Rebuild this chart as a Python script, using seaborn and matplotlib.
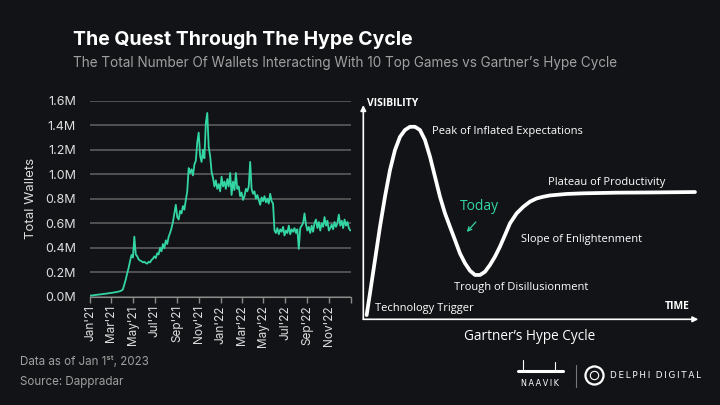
import matplotlib
matplotlib.use("Agg")
import matplotlib.pyplot as plt
import seaborn as sns
import pandas as pd

BG = "#121316"
GREEN = "#33d6a2"
GRID = "#626262"
LIGHT = "#dedede"
GREY = "#a0a0a0"

# total wallets (thousands), one reading every 4 days from Jan 1st 2021
wallets_k = [
    8, 10, 11, 13, 14, 16, 17, 19, 20, 22, 23, 25, 26, 28, 30, 31, 33, 35, 37, 39,
    42, 45, 50, 60, 100, 140, 190, 235, 290, 340, 320, 490, 345, 330, 305, 295, 290, 280, 285, 275,
    270, 285, 280, 300, 310, 330, 315, 355, 345, 400, 370, 430, 395, 460, 430, 490, 520, 560, 610, 680,
    750, 650, 630, 700, 680, 740, 710, 790, 860, 1050, 1010, 1040, 990, 1080, 1110, 1260, 1340, 1150, 1100, 1200,
    1130, 1420, 1500, 1220, 1150, 1020, 970, 900, 950, 880, 920, 860, 980, 900, 940, 880, 960, 900, 1010, 830,
    940, 870, 1010, 880, 900, 820, 850, 790, 820, 880, 860, 900, 1100, 880, 840, 860, 800, 830, 790, 750,
    810, 780, 820, 770, 800, 760, 840, 780, 760, 540, 520, 560, 510, 550, 530, 570, 500, 540, 520, 580,
    510, 550, 530, 560, 520, 550, 390, 560, 580, 600, 680, 590, 540, 570, 520, 580, 530, 600, 630, 560,
    610, 540, 600, 570, 650, 580, 620, 540, 560, 590, 550, 610, 570, 600, 670, 580, 620, 560, 630, 580,
    610, 560, 540,
]
start_date = "2021-01-01"
tick_dates = ["2021-01-01", "2021-03-01", "2021-05-01", "2021-07-01", "2021-09-01", "2021-11-01",
              "2022-01-01", "2022-03-01", "2022-05-01", "2022-07-01", "2022-09-01", "2022-11-01",
              "2023-01-01"]
tick_labels = ["Jan'21", "Mar'21", "May'21", "Jul'21", "Sep'21", "Nov'21",
               "Jan'22", "Mar'22", "May'22", "Jul'22", "Sep'22", "Nov'22", ""]
y_ticks = [0, 200000, 400000, 600000, 800000, 1000000, 1200000, 1400000, 1600000]

# Gartner hype cycle outline (time, visibility)
hype_t = [1.0, 2.0, 3.5, 5.0, 6.5, 8.0, 9.5, 11.0, 12.5, 14.0, 15.5, 17.0, 18.5, 20.0, 21.5,
          23.0, 24.5, 26.0, 27.5, 29.0, 30.5, 32.0, 33.5, 35.0, 36.5, 38.0, 39.5, 41.0, 42.5,
          44.0, 46.0, 48.0, 50.0, 52.0, 54.0, 56.0, 61.0, 66.0, 76.0, 86.0, 99.5]
hype_v = [2.0, 12.2, 27.8, 43.4, 57.5, 70.0, 79.4, 85.6, 88.8, 90.3, 90.3, 88.8, 84.1, 76.3, 66.9,
          57.5, 49.7, 43.4, 37.2, 30.9, 26.3, 22.8, 20.8, 20.8, 22.3, 25.5, 29.4, 34.1, 39.5,
          45.0, 49.7, 52.8, 55.2, 56.7, 57.5, 58.1, 58.8, 59.1, 59.4, 59.5, 59.7]

sns.set_style("dark", {"axes.facecolor": BG, "figure.facecolor": BG})
plt.rcParams["font.family"] = ["Inter", "DejaVu Sans"]

fig = plt.figure(figsize=(7.2, 4.05), dpi=100)

fig.text(0.101, 0.901, "The Quest Through The Hype Cycle", color="white",
         fontsize=14, fontweight="bold", va="center")
fig.text(0.101, 0.844, "The Total Number Of Wallets Interacting With 10 Top Games vs Gartner\u2019s Hype Cycle",
         color=GREY, fontsize=9.75, va="center")

# left: wallets line
ax = fig.add_axes([0.125, 0.2674, 0.3625, 0.484])
df = pd.DataFrame({
    "date": pd.date_range(start_date, periods=len(wallets_k), freq="4D"),
    "wallets": [v * 1000 for v in wallets_k],
})
sns.lineplot(data=df, x="date", y="wallets", ax=ax, color=GREEN, linewidth=1.3)
ax.set_xlim(pd.Timestamp("2021-01-01"), pd.Timestamp("2023-01-01"))
ax.set_ylim(0, 1.6e6)
ax.set_yticks(y_ticks)
ax.set_yticklabels([f"{v / 1e6:.1f}M" for v in y_ticks])
ax.set_xticks(pd.to_datetime(tick_dates))
ax.set_xticklabels(tick_labels, rotation=90)
ax.grid(axis="y", color=GRID, linewidth=1.1)
ax.grid(axis="x", visible=False)
ax.set_axisbelow(True)
for s in ["left", "top", "right"]:
    ax.spines[s].set_visible(False)
ax.spines["bottom"].set_color("#8a8a8a")
ax.tick_params(axis="x", colors="#8a8a8a", labelcolor=LIGHT, length=4, width=1,
               direction="out", labelsize=8.5, pad=2, bottom=True)
ax.tick_params(axis="y", length=0, labelcolor=LIGHT, labelsize=9, pad=10)
ax.set_xlabel("")
ax.set_ylabel("Total Wallets", color=LIGHT, fontsize=9.5, labelpad=6)

# right: hype cycle schematic
ax2 = fig.add_axes([0.5046, 0.2116, 0.4653, 0.529])
ax2.set_facecolor("none")
sns.lineplot(x=hype_t, y=hype_v, ax=ax2, color="white", linewidth=2.7)
ax2.set_xlim(0, 100.5)
ax2.set_ylim(0, 100.5)
ax2.axis("off")
arrow = dict(arrowstyle="-|>", color="white", lw=1.2, mutation_scale=8, shrinkA=0, shrinkB=0)
ax2.annotate("", xy=(0, 100.5), xytext=(0, 0), arrowprops=arrow, annotation_clip=False)
ax2.annotate("", xy=(100.5, 0), xytext=(0, 0), arrowprops=arrow, annotation_clip=False)

hype_font = ["Open Sans", "DejaVu Sans"]
ax2.text(1.2, 101.3, "VISIBILITY", color="white", fontsize=7.5, fontweight="bold",
         va="center", family=hype_font)
ax2.text(98, 5.9, "TIME", color="white", fontsize=7.5, fontweight="bold",
         ha="right", va="center", family=hype_font)
labels = [
    (20.5, 88.3, "Peak of Inflated Expectations"),
    (55.3, 64.2, "Plateau of Productivity"),
    (47.2, 37.5, "Slope of Enlightenment"),
    (27.2, 15.0, "Trough of Disillusionment"),
    (3.5, 5.0, "Technology Trigger"),
]
for tx, ty, s in labels:
    ax2.text(tx, ty, s, color="white", fontsize=8.0, va="center", family=hype_font)
ax2.text(29, 53.1, "Today", color=GREEN, fontsize=10, va="center", family=hype_font)
ax2.annotate("", xy=(30.5, 40.0), xytext=(34.3, 46.6),
             arrowprops=dict(arrowstyle="->", color=GREEN, lw=0.9, mutation_scale=7))
fig.text(0.735, 0.170, "Gartner\u2019s Hype Cycle", color="white", fontsize=9.8,
         ha="center", va="center", family=hype_font)

# footer
fig.text(0.028, 0.106, "Data as of Jan 1\u02e2\u1d57, 2023", color=GREY, fontsize=8.3, va="center")
fig.text(0.028, 0.057, "Source: Dappradar", color=GREY, fontsize=8.3, va="center")

# logos
fig.add_artist(plt.Line2D([0.72, 0.782], [0.083, 0.083], color="white", lw=2.2))
fig.add_artist(plt.Line2D([0.727, 0.727], [0.083, 0.112], color="white", lw=0.8))
fig.add_artist(plt.Line2D([0.771, 0.771], [0.083, 0.106], color="white", lw=0.8))
fig.text(0.75, 0.052, "\u2009".join("NAAVIK"), color="white", fontsize=5.8,
         ha="center", va="center", family=["DejaVu Sans"])
fig.add_artist(plt.Line2D([0.8, 0.8], [0.044, 0.099], color="#777777", lw=0.8))
fig.add_artist(plt.Line2D([0.825], [0.074], marker="o", ms=13, mfc="none", mec="white", mew=1.6))
fig.add_artist(plt.Line2D([0.825], [0.074], marker="o", ms=6, mfc="none", mec="white", mew=0.8))
fig.text(0.847, 0.074, "\u2009".join("DELPHI") + "  " + "\u2009".join("DIGITAL"),
         color="white", fontsize=6.3, va="center", family=["DejaVu Sans"])

fig.savefig("out.png", dpi=100, facecolor=BG)
